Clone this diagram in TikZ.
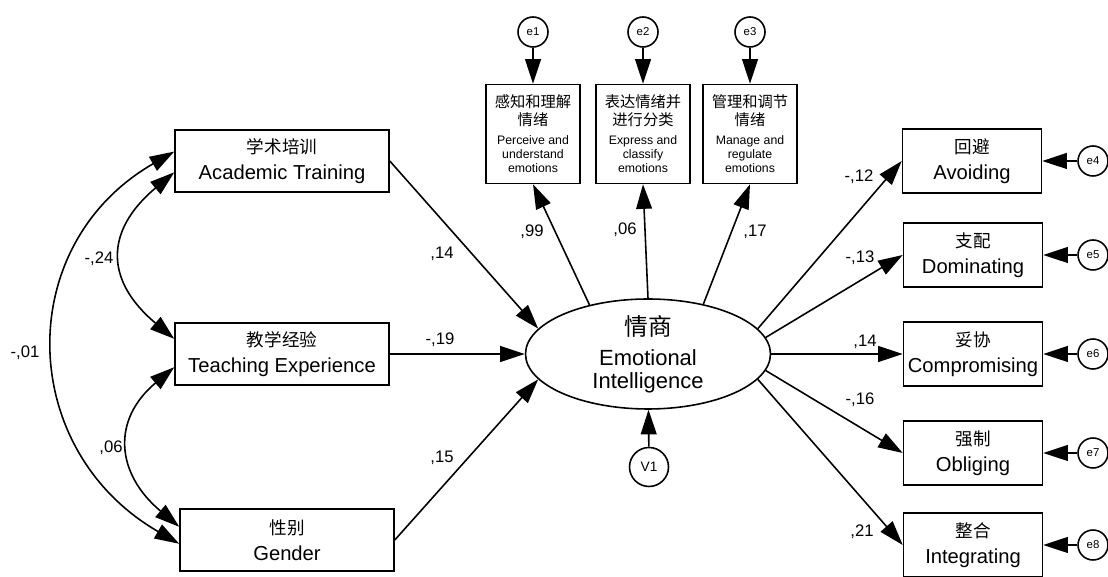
\documentclass[tikz,border=0pt]{standalone}
\usepackage{fontspec}
\setmainfont{Liberation Sans}
\newfontfamily\cjk{Noto Sans CJK SC}
\usetikzlibrary{arrows.meta,positioning,shapes}
\newcommand{\zh}[1]{{\cjk\fontsize{10}{12}\selectfont #1}}
\newcommand{\zhs}[1]{{\cjk\fontsize{8.7}{10}\selectfont #1}}

\begin{document}
\begin{tikzpicture}[x=0.02cm, y=0.02cm, line width=0.9pt,
  >={Triangle[length=14pt,width=9pt]},
  obs/.style={draw, rectangle, inner sep=0pt, align=center, font=\fontsize{11.5}{15}\selectfont},
  lbox/.style={obs, minimum width=4.28cm, minimum height=1.24cm},
  rbox/.style={obs, minimum width=2.78cm, minimum height=1.28cm},
  tbox/.style={obs, minimum width=1.88cm, minimum height=1.98cm, font=\fontsize{7}{8}\selectfont},
  lat/.style={draw, ellipse, minimum width=4.9cm, minimum height=2.2cm, inner xsep=0pt, inner ysep=-14pt, align=center, font=\fontsize{12.5}{13}\selectfont},
  err/.style={draw, circle, minimum size=0.6cm, inner sep=0pt, font=\fontsize{6.5}{7}\selectfont},
  coef/.style={inner sep=0pt, font=\fontsize{9.5}{11}\selectfont}]
  \useasboundingbox (0,0) rectangle (1108,577);
  % exogenous variables
  \node[lbox] (at) at (282,416) {\zh{学术培训}\\ Academic Training};
  \node[lbox] (te) at (282,223) {\zh{教学经验}\\ Teaching Experience};
  \node[lbox] (ge) at (287,37) {\zh{性别}\\ Gender};
  % latent variable
  \node[lat] (ei) at (648,223) {{\cjk\fontsize{13.5}{15}\selectfont 情商}\\[4pt] Emotional\\ Intelligence};
  \node[err, minimum size=0.78cm, font=\fontsize{7.8}{9}\selectfont] (v1) at (649,110) {V1};
  % indicators
  \node[tbox] (p1) at (533,443) {\zhs{感知和理解}\\[1pt]\zhs{情绪}\\[3pt] Perceive and\\ understand\\ emotions};
  \node[tbox] (p2) at (643,443) {\zhs{表达情绪并}\\[1pt]\zhs{进行分类}\\[3pt] Express and\\ classify\\ emotions};
  \node[tbox] (p3) at (750,443) {\zhs{管理和调节}\\[1pt]\zhs{情绪}\\[3pt] Manage and\\ regulate\\ emotions};
  \node[err] (e1) at (533,545) {e1};
  \node[err] (e2) at (643,545) {e2};
  \node[err] (e3) at (750,545) {e3};
  % conflict styles
  \node[rbox] (av) at (972,416) {\zh{回避}\\ Avoiding};
  \node[rbox] (dom) at (973,322) {\zh{支配}\\ Dominating};
  \node[rbox] (co) at (973,223) {\zh{妥协}\\ Compromising};
  \node[rbox] (ob) at (973,124) {\zh{强制}\\ Obliging};
  \node[rbox] (ig) at (973,32) {\zh{整合}\\ Integrating};
  \node[err] (e4) at (1093,416) {e4};
  \node[err] (e5) at (1093,322) {e5};
  \node[err] (e6) at (1093,223) {e6};
  \node[err] (e7) at (1093,124) {e7};
  \node[err] (e8) at (1093,32) {e8};

  % covariances
  \draw[<->] (at.175) to[out=210, in=150, looseness=1.22] (ge.182);
  \draw[<->] (at.186) to[out=220, in=140, looseness=1.4] (te.172);
  \draw[<->] (te.187) to[out=220, in=140, looseness=1.32] (ge.173);
  % paths
  \draw[->] (at.east) -- (ei.167);
  \draw[->] (te.east) -- (ei.west);
  \draw[->] (ge.east) -- (ei.193);
  \draw[->] (ei.140) -- (p1.south);
  \draw[->] (ei.north) -- (p2.south);
  \draw[->] (ei.42) -- (p3.south);
  \draw[->] (v1) -- (ei);
  \draw[->] (ei.13) -- (av.west);
  \draw[->] (ei.8) -- (dom.west);
  \draw[->] (ei.east) -- (co.west);
  \draw[->] (ei.-8) -- (ob.west);
  \draw[->] (ei.-13) -- (ig.west);
  \foreach \e/\b in {e1/p1,e2/p2,e3/p3,e4/av,e5/dom,e6/co,e7/ob,e8/ig}
    \draw[->] (\e) -- (\b);

  % coefficients
  \node[coef] (c1) at (25,224) {-,01};
  \node[coef] (c2) at (99,318) {-,24};
  \node[coef] (c3) at (111,129) {,06};
  \node[coef] (c4) at (442,323) {,14};
  \node[coef] (c5) at (440,237) {-,19};
  \node[coef] (c6) at (442,119) {,15};
  \node[coef] (c7) at (532,345) {,99};
  \node[coef] (c8) at (625,347) {,06};
  \node[coef] (c9) at (755,345) {,17};
  \node[coef] (c10) at (859,400) {-,12};
  \node[coef] (c11) at (860,319) {-,13};
  \node[coef] (c12) at (865,235) {,14};
  \node[coef] (c13) at (860,177) {-,16};
  \node[coef] (c14) at (862,45) {,21};
\end{tikzpicture}
\end{document}
